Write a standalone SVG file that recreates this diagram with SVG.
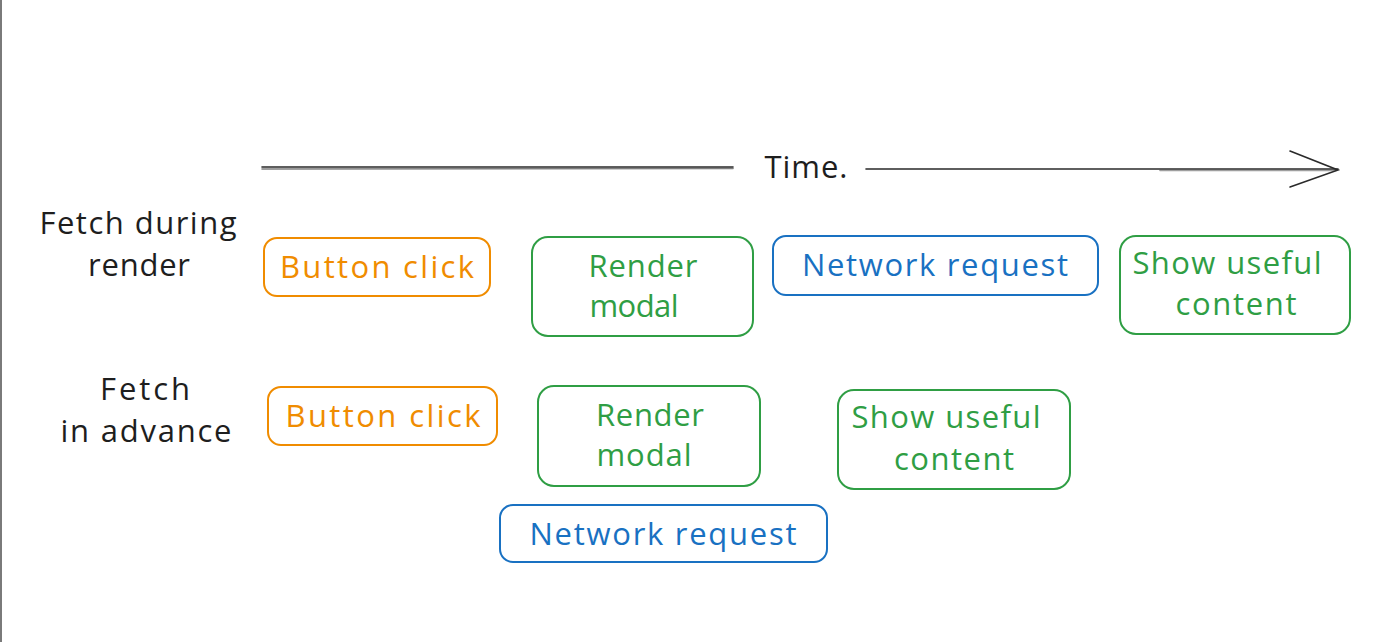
<svg xmlns="http://www.w3.org/2000/svg" width="1380" height="642" viewBox="0 0 1380 642">
<defs>
<style>
.t{font-family:"Open Sans","Liberation Sans",sans-serif;font-size:31px;text-anchor:middle;}
.k{fill:#1e1e1e;}
.o{fill:#f08c00;}
.g{fill:#2f9e44;}
.b{fill:#1971c2;}
.bo{fill:none;stroke:#f08c00;stroke-width:2;}
.bg{fill:none;stroke:#2f9e44;stroke-width:2;}
.bb{fill:none;stroke:#1971c2;stroke-width:2;}
.ax{fill:none;stroke:#2a2a2a;stroke-width:1.6;stroke-linecap:round;}
</style>
</defs>
<rect x="0" y="0" width="1380" height="642" fill="#ffffff"/>
<rect x="0" y="0" width="2" height="642" fill="#7a7a7a"/>

<g id="connectors">
<line class="ax" x1="262" y1="167" x2="733" y2="167"/>
<line class="ax" x1="262" y1="169" x2="733" y2="168.5" stroke-opacity="0.6"/>
<line class="ax" x1="866" y1="169" x2="1338" y2="169"/>
<line class="ax" x1="1160" y1="170.5" x2="1336" y2="170.5" stroke-opacity="0.45"/>
<polyline class="ax" points="1290,151 1338,170 1290,187"/>
</g>

<g id="time-label"><text class="t k" x="806" y="178" textLength="83">Time.</text></g>

<g id="label-fetch-during-render">
<text class="t k" x="138" y="234" textLength="197">Fetch during</text>
<text class="t k" x="139" y="276" textLength="102">render</text>
</g>
<g id="label-fetch-in-advance">
<text class="t k" x="145" y="400" textLength="90">Fetch</text>
<text class="t k" x="146" y="442" textLength="171">in advance</text>
</g>

<g id="r1-button-click">
<rect class="bo" x="264" y="238" width="226" height="58" rx="13"/>
<text class="t o" x="377" y="278" textLength="194">Button click</text>
</g>
<g id="r1-render-modal">
<rect class="bg" x="532" y="237" width="221" height="99" rx="16"/>
<text class="t g" x="643" y="277" textLength="109">Render</text>
<text class="t g" x="634" y="317" textLength="89">modal</text>
</g>
<g id="r1-network-request">
<rect class="bb" x="773" y="236" width="325" height="59" rx="13"/>
<text class="t b" x="935" y="276" textLength="266">Network request</text>
</g>
<g id="r1-show-useful-content">
<rect class="bg" x="1120" y="236" width="230" height="98" rx="16"/>
<text class="t g" x="1227" y="274" textLength="189">Show useful</text>
<text class="t g" x="1236" y="315" textLength="121">content</text>
</g>

<g id="r2-button-click">
<rect class="bo" x="268" y="387" width="229" height="58" rx="13"/>
<text class="t o" x="383" y="427" textLength="195">Button click</text>
</g>
<g id="r2-render-modal">
<rect class="bg" x="538" y="386" width="222" height="100" rx="16"/>
<text class="t g" x="650" y="426" textLength="108">Render</text>
<text class="t g" x="644" y="466" textLength="95">modal</text>
</g>
<g id="r2-show-useful-content">
<rect class="bg" x="838" y="390" width="232" height="99" rx="16"/>
<text class="t g" x="946" y="428" textLength="189">Show useful</text>
<text class="t g" x="954" y="470" textLength="120">content</text>
</g>
<g id="r2-network-request">
<rect class="bb" x="500" y="505" width="327" height="57" rx="13"/>
<text class="t b" x="663" y="545" textLength="267">Network request</text>
</g>
</svg>
